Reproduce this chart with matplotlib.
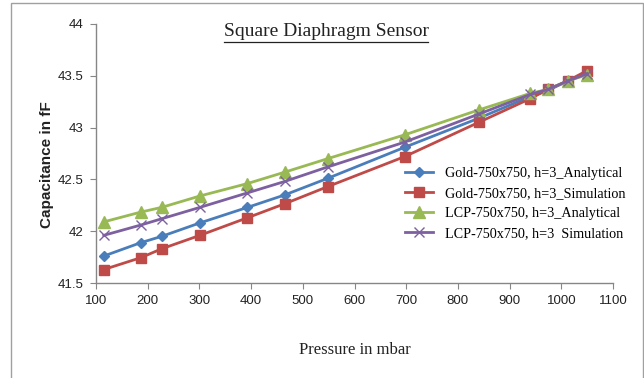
import matplotlib
matplotlib.use("Agg")
import matplotlib.pyplot as plt
import matplotlib.patches as mpatches
from matplotlib.lines import Line2D

# pressure in mbar
pressure = [115, 187, 227, 301, 393, 465, 548, 697, 840, 940, 975, 1012, 1050]

# capacitance in fF
gold_analytical = [41.76, 41.89, 41.95, 42.08, 42.23, 42.35, 42.51, 42.81, 43.09, 43.30, 43.36, 43.45, 43.52]
gold_simulation = [41.63, 41.745, 41.83, 41.96, 42.13, 42.265, 42.43, 42.72, 43.05, 43.28, 43.37, 43.45, 43.55]
lcp_analytical = [42.09, 42.185, 42.23, 42.34, 42.46, 42.57, 42.70, 42.93, 43.17, 43.33, 43.37, 43.45, 43.51]
lcp_simulation = [41.96, 42.06, 42.12, 42.23, 42.37, 42.48, 42.62, 42.86, 43.13, 43.32, 43.37, 43.45, 43.52]

labels = [
    "Gold-750x750, h=3_Analytical",
    "Gold-750x750, h=3_Simulation",
    "LCP-750x750, h=3_Analytical",
    "LCP-750x750, h=3  Simulation",
]
x_ticks = [100, 200, 300, 400, 500, 600, 700, 800, 900, 1000, 1100]
y_ticks = [41.5, 42, 42.5, 43, 43.5, 44]

SERIF = "Liberation Serif"
SANS = "Liberation Sans"
AXIS_GRAY = "#868686"

fig = plt.figure(figsize=(6.44, 3.78), dpi=100)
ax = fig.add_axes([96 / 644, 1 - 283 / 378, (613 - 96) / 644, (283 - 24) / 378])

styles = [
    dict(color="#4A7EBB", marker="D", markersize=5.5),
    dict(color="#BE4B48", marker="s", markersize=7),
    dict(color="#98B954", marker="^", markersize=8),
    dict(color="#7D60A0", marker="x", markersize=7, markeredgewidth=1.0),
]
series = [gold_analytical, gold_simulation, lcp_analytical, lcp_simulation]
for ys, lab, st in zip(series, labels, styles):
    ax.plot(pressure, ys, linewidth=2.0, label=lab, **st)

ax.set_xlim(100, 1100)
ax.set_ylim(41.5, 44)
ax.set_xticks(x_ticks)
ax.set_yticks(y_ticks)
ax.set_xticklabels([str(v) for v in x_ticks], fontfamily=SANS, fontsize=9.5)
ax.set_yticklabels([f"{v:g}" for v in y_ticks], fontfamily=SANS, fontsize=9.5)
ax.tick_params(direction="out", length=4, color=AXIS_GRAY, labelcolor="#222222", pad=5)

for side in ["top", "right"]:
    ax.spines[side].set_visible(False)
for side in ["left", "bottom"]:
    ax.spines[side].set_color(AXIS_GRAY)
    ax.spines[side].set_linewidth(1.0)

fig.text(47 / 644, 1 - 165 / 378, "Capacitance in fF", rotation=90,
         ha="center", va="center", fontfamily=SANS, fontweight="bold",
         fontsize=11, color="#222222")
fig.text(355 / 644, 1 - 350 / 378, "Pressure in mbar", ha="center",
         va="center", fontfamily=SERIF, fontsize=12, color="#222222")

title = fig.text(326 / 644, 1 - 32 / 378, "Square Diaphragm Sensor",
                 ha="center", va="center", fontfamily=SERIF, fontsize=14,
                 color="#222222")

leg = fig.legend(loc="upper left", bbox_to_anchor=(405 / 644, 1 - 167 / 378),
                 frameon=False, prop={"family": SERIF, "size": 10.2},
                 handlelength=2.0, handletextpad=0.8, labelspacing=0.5,
                 borderpad=0, borderaxespad=0)

# outer chart border
fig.add_artist(mpatches.Rectangle((11 / 644, -0.02), (642.5 - 11) / 644, 1.0116,
                                  transform=fig.transFigure, fill=False,
                                  edgecolor="#a0a0a0", linewidth=1.0))

# underline the title
fig.canvas.draw()
bb = title.get_window_extent().transformed(fig.transFigure.inverted())
fig.add_artist(Line2D([bb.x0, bb.x1], [bb.y0 - 0.004, bb.y0 - 0.004],
                      transform=fig.transFigure, color="#222222", linewidth=0.9))

fig.savefig("out.png", dpi=100)
